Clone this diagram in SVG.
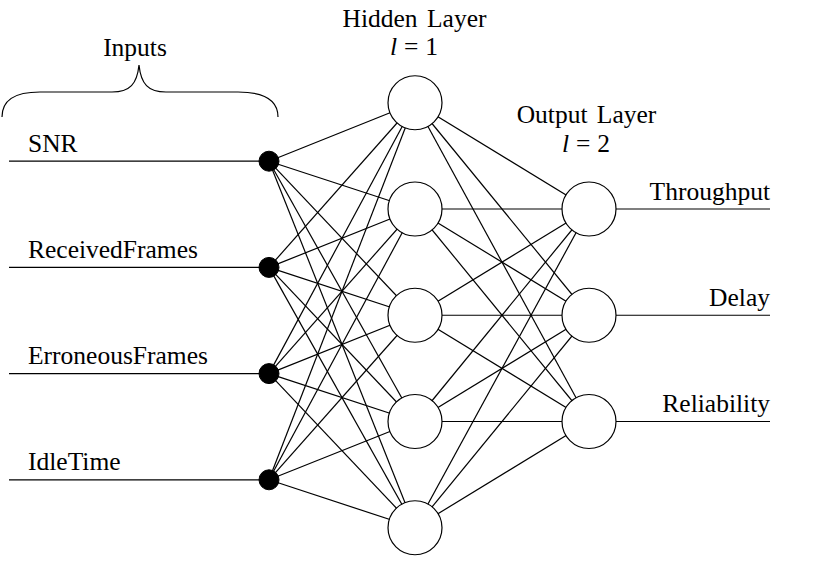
<svg xmlns="http://www.w3.org/2000/svg" width="813" height="573" viewBox="0 0 813 573">
<style>
text{font-family:"Liberation Serif","Times New Roman",serif;font-size:25.5px;fill:#000}
.c{stroke:#000;stroke-width:1.2;fill:none}
.n{fill:#fff;stroke:#000;stroke-width:1.2}
.d{fill:#000;stroke:#000;stroke-width:1}
.m{font-style:italic}
</style>
<rect width="813" height="573" fill="#fff"/>
<g id="brace">
<path class="c" d="M 2,117 C 2,100 14,92 40,92 L 112,92 C 130,92 137,84 139,65 C 141,84 148,92 166,92 L 238,92 C 264,92 278,100 278,117"/>
<text x="135" y="56" text-anchor="middle">Inputs</text>
</g>
<g id="connectors" class="c">
<line x1="9" y1="161.2" x2="269" y2="161.2"/>
<line x1="9" y1="267.4" x2="269" y2="267.4"/>
<line x1="9" y1="373.6" x2="269" y2="373.6"/>
<line x1="9" y1="479.8" x2="269" y2="479.8"/>
<line x1="589" y1="209" x2="770" y2="209"/>
<line x1="589" y1="315.25" x2="770" y2="315.25"/>
<line x1="589" y1="421.5" x2="770" y2="421.5"/>
<line x1="269" y1="161.2" x2="415" y2="102.75"/><line x1="269" y1="161.2" x2="415" y2="209"/><line x1="269" y1="161.2" x2="415" y2="315.25"/><line x1="269" y1="161.2" x2="415" y2="421.5"/><line x1="269" y1="161.2" x2="415" y2="527.75"/>
<line x1="269" y1="267.4" x2="415" y2="102.75"/><line x1="269" y1="267.4" x2="415" y2="209"/><line x1="269" y1="267.4" x2="415" y2="315.25"/><line x1="269" y1="267.4" x2="415" y2="421.5"/><line x1="269" y1="267.4" x2="415" y2="527.75"/>
<line x1="269" y1="373.6" x2="415" y2="102.75"/><line x1="269" y1="373.6" x2="415" y2="209"/><line x1="269" y1="373.6" x2="415" y2="315.25"/><line x1="269" y1="373.6" x2="415" y2="421.5"/><line x1="269" y1="373.6" x2="415" y2="527.75"/>
<line x1="269" y1="479.8" x2="415" y2="102.75"/><line x1="269" y1="479.8" x2="415" y2="209"/><line x1="269" y1="479.8" x2="415" y2="315.25"/><line x1="269" y1="479.8" x2="415" y2="421.5"/><line x1="269" y1="479.8" x2="415" y2="527.75"/>
<line x1="415" y1="102.75" x2="589" y2="209"/><line x1="415" y1="102.75" x2="589" y2="315.25"/><line x1="415" y1="102.75" x2="589" y2="421.5"/>
<line x1="415" y1="209" x2="589" y2="209"/><line x1="415" y1="209" x2="589" y2="315.25"/><line x1="415" y1="209" x2="589" y2="421.5"/>
<line x1="415" y1="315.25" x2="589" y2="209"/><line x1="415" y1="315.25" x2="589" y2="315.25"/><line x1="415" y1="315.25" x2="589" y2="421.5"/>
<line x1="415" y1="421.5" x2="589" y2="209"/><line x1="415" y1="421.5" x2="589" y2="315.25"/><line x1="415" y1="421.5" x2="589" y2="421.5"/>
<line x1="415" y1="527.75" x2="589" y2="209"/><line x1="415" y1="527.75" x2="589" y2="315.25"/><line x1="415" y1="527.75" x2="589" y2="421.5"/>
</g>
<g id="in1"><circle class="d" cx="269" cy="161.2" r="10"/><text x="28" y="152">SNR</text></g>
<g id="in2"><circle class="d" cx="269" cy="267.4" r="10"/><text x="28" y="258">ReceivedFrames</text></g>
<g id="in3"><circle class="d" cx="269" cy="373.6" r="10"/><text x="28" y="364">ErroneousFrames</text></g>
<g id="in4"><circle class="d" cx="269" cy="479.8" r="10"/><text x="28" y="470">IdleTime</text></g>
<g id="hidden-label"><text x="414.5" y="27" text-anchor="middle" word-spacing="3">Hidden Layer</text><text x="414" y="55" text-anchor="middle"><tspan class="m">l</tspan><tspan dx="7">=</tspan><tspan dx="7">1</tspan></text></g>
<g id="h1"><circle class="n" cx="415" cy="102.75" r="27"/></g>
<g id="h2"><circle class="n" cx="415" cy="209" r="27"/></g>
<g id="h3"><circle class="n" cx="415" cy="315.25" r="27"/></g>
<g id="h4"><circle class="n" cx="415" cy="421.5" r="27"/></g>
<g id="h5"><circle class="n" cx="415" cy="527.75" r="27"/></g>
<g id="output-label"><text x="586.5" y="123" text-anchor="middle" word-spacing="3">Output Layer</text><text x="586" y="152" text-anchor="middle"><tspan class="m">l</tspan><tspan dx="7">=</tspan><tspan dx="7">2</tspan></text></g>
<g id="o1"><circle class="n" cx="589" cy="209" r="27"/><text x="770" y="199.5" text-anchor="end">Throughput</text></g>
<g id="o2"><circle class="n" cx="589" cy="315.25" r="27"/><text x="770" y="305.5" text-anchor="end">Delay</text></g>
<g id="o3"><circle class="n" cx="589" cy="421.5" r="27"/><text x="770" y="411.7" text-anchor="end">Reliability</text></g>
</svg>
